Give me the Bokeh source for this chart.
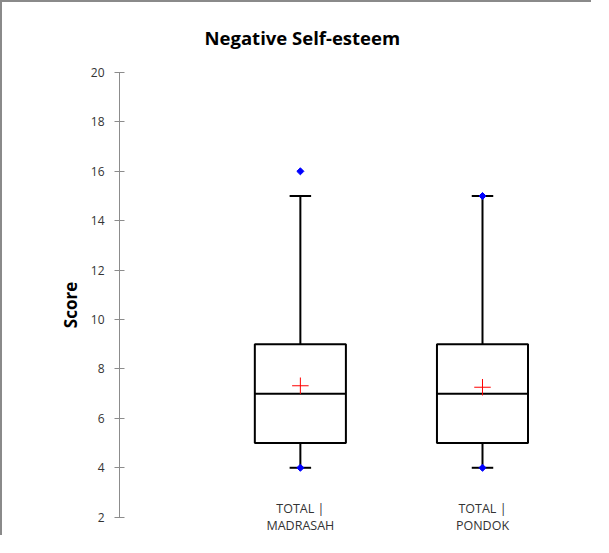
from bokeh.plotting import figure
from bokeh.models import Range1d, FixedTicker, ColumnDataSource
from bokeh.core.properties import value
from bokeh.embed import file_html
from bokeh.resources import INLINE

# ---- data ----
title_text = "Negative Self-esteem"
categories = ["TOTAL |\nMADRASAH", "TOTAL |\nPONDOK"]
q1 = [5, 5]
median = [7, 7]
q3 = [9, 9]
whisker_low = [4, 4]
whisker_high = [15, 15]
means = [7.32, 7.26]
minimum = [4, 4]
maximum = [16, 15]
y_ticks = [2, 4, 6, 8, 10, 12, 14, 16, 18, 20]

xpos = [i + 1 for i in range(len(categories))]
box_w = 0.5
cap_w = 0.118
label_level = 2.01  # vertical position of the category labels (layout constant)

src = ColumnDataSource(dict(
    x=xpos,
    xl=[x - box_w / 2 for x in xpos],
    xr=[x + box_w / 2 for x in xpos],
    cl=[x - cap_w / 2 for x in xpos],
    cr=[x + cap_w / 2 for x in xpos],
    q1=q1, med=median, q3=q3, lo=whisker_low, hi=whisker_high, mean=means,
    name=categories, ly=[label_level] * len(categories),
))

p = figure(width=591, height=535, output_backend="svg", toolbar_location=None,
           x_range=Range1d(0.007, 2.582), y_range=Range1d(1.178, 20),
           x_axis_location=None,
           min_border_left=117, min_border_right=5, min_border_top=70, min_border_bottom=0)
p.styles = {"border-top": "2px solid #8a8a8a", "border-left": "2px solid #8a8a8a"}

p.outline_line_color = None
p.xgrid.visible = False
p.ygrid.visible = False

p.title.text = title_text
p.title.text_font = "Open Sans"
p.title.text_font_size = "18.5px"
p.title.text_font_style = "bold"
p.title.text_color = "#000000"
p.title.align = "left"
p.title.offset = 85
p.title.vertical_align = "top"
p.title.standoff = 42

# whiskers
p.segment(x0="x", y0="q3", x1="x", y1="hi", source=src, line_color="black", line_width=2)
p.segment(x0="x", y0="q1", x1="x", y1="lo", source=src, line_color="black", line_width=2)
p.segment(x0="cl", y0="hi", x1="cr", y1="hi", source=src, line_color="black", line_width=2)
p.segment(x0="cl", y0="lo", x1="cr", y1="lo", source=src, line_color="black", line_width=2)
# boxes
p.quad(left="xl", right="xr", bottom="q1", top="q3", source=src,
       fill_color="white", line_color="black", line_width=2)
p.segment(x0="xl", y0="med", x1="xr", y1="med", source=src, line_color="black", line_width=2)
# mean
p.scatter(x="x", y="mean", source=src, marker="cross", size=16.5, line_color="#ff0000", line_width=1)
# min / max points
p.scatter(x=xpos + xpos, y=minimum + maximum, marker="square", angle=0.785, size=5,
          fill_color="#0000ff", line_color="#0000ff")

# category labels
p.text(x="x", y="ly", text="name", source=src, text_align="center", text_baseline="middle",
       text_font=value("Open Sans"), text_font_size="12.5px", text_color="#333333",
       text_line_height=1.05)

# y axis
ya = p.yaxis[0]
ya.bounds = (2, 20)
ya.ticker = FixedTicker(ticks=y_ticks)
ya.minor_tick_line_color = None
ya.axis_line_color = "#8c8c8c"
ya.major_tick_line_color = "#8c8c8c"
ya.major_tick_in = 5
ya.major_tick_out = 5
ya.major_label_standoff = 10
ya.major_label_text_font = "Open Sans"
ya.major_label_text_font_size = "12px"
ya.major_label_text_color = "#333333"
ya.axis_label = "Score"
ya.axis_label_text_font = "Open Sans"
ya.axis_label_text_font_size = "17px"
ya.axis_label_text_font_style = "bold"
ya.axis_label_text_color = "#000000"
ya.axis_label_standoff = 6

open("out.html", "w").write(file_html(p, INLINE))
